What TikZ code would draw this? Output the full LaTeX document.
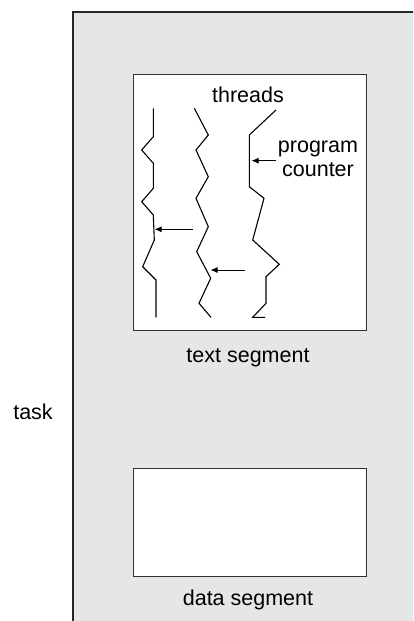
\documentclass[tikz,border=0pt]{standalone}
\usepackage{fontspec}
\setmainfont{Liberation Sans}
\usetikzlibrary{arrows.meta}
\definecolor{taskgray}{RGB}{229,230,232}
\definecolor{boxline}{RGB}{50,50,50}
\tikzset{
  lbl/.style={font=\fontsize{21.5}{24}\selectfont, inner sep=0pt, align=center},
  segbox/.style={draw=boxline, line width=1.2pt, fill=white},
  thread/.style={line width=1.1pt, line join=miter},
  pcarrow/.style={line width=1pt, -{Latex[length=7pt,width=6pt]}}
}
\begin{document}
\begin{tikzpicture}[x=1pt,y=-1pt]
\useasboundingbox (0,0) rectangle (413,621);
\clip (0,0) rectangle (413,621);
% task area
\fill[taskgray] (73,12) rectangle (420,630);
\draw[line width=1.8pt, draw=black!85] (73,630) -- (73,12) -- (420,12);
% segments
\node[segbox, minimum width=233pt, minimum height=256pt, anchor=north west, inner sep=0pt] (text) at (132.5,74) {};
\node[segbox, minimum width=233pt, minimum height=108pt, anchor=north west, inner sep=0pt] (data) at (132.5,468) {};
% labels
\node[lbl] (threads) at (248,95) {threads};
\node[lbl] (pc) at (318,159) {program\\counter};
\node[lbl] (textlbl) at (248,358) {text segment};
\node[lbl] (datalbl) at (248,600) {data segment};
\node[lbl] (task) at (33,412) {task};
% threads
\draw[thread] (153.3,108.3) -- (153.3,136.7) -- (141.7,150) -- (153.3,163.3) -- (153.3,188.3) -- (141.7,201.7) -- (153.3,215) -- (154.3,240) -- (142.7,266.7) -- (156,280) -- (156,317.3);
\draw[thread] (194.3,108.3) -- (208.3,135) -- (196,150) -- (208.3,176.7) -- (196,198.3) -- (208.3,226.7) -- (196.7,251.7) -- (210.7,278.3) -- (199,303.3) -- (211,317.3);
\draw[thread] (276,110) -- (249.3,135) -- (249.3,186.7) -- (264,198.3) -- (252.7,240) -- (279.3,264.3) -- (266,276.7) -- (266,303.3) -- (252.7,317.3) -- (265,317.3);
% program counter arrows
\coordinate (a1s) at (192.7,229.3); \coordinate (a1e) at (154.5,229.3);
\coordinate (a2s) at (245,270); \coordinate (a2e) at (210.5,270);
\coordinate (a3s) at (276,160.7); \coordinate (a3e) at (251.5,160.7);
\draw[pcarrow] (a1s) -- (a1e);
\draw[pcarrow] (a2s) -- (a2e);
\draw[pcarrow] (a3s) -- (a3e);
\end{tikzpicture}
\end{document}
